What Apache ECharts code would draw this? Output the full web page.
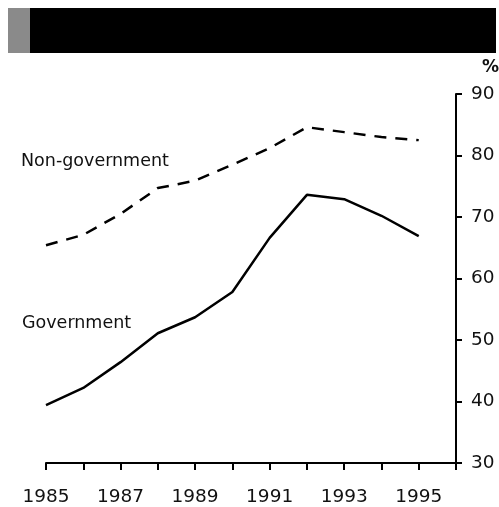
<!DOCTYPE html>
<html><head><meta charset="utf-8">
<script src="https://cdn.jsdelivr.net/npm/echarts@6/dist/echarts.min.js"></script>
<style>html,body{margin:0;padding:0;background:#fff}#c{width:499px;height:507px}</style>
</head><body><div id="c"></div>
<script>
var years = [1985,1986,1987,1988,1989,1990,1991,1992,1993,1994,1995];
var government = [39.4,42.2,46.4,51.1,53.7,57.8,66.6,73.6,72.9,70.2,66.9];
var nonGovernment = [65.4,67.1,70.5,74.7,75.9,78.5,81.2,84.6,83.8,83.0,82.5];
var xTickLabels = [1985,1987,1989,1991,1993,1995];
var yTicks = [30,40,50,60,70,80,90];

function pairs(xs, ys){ return xs.map(function(x,i){return [x, ys[i]];}); }
var font = 'DejaVu Sans';
var chart = echarts.init(document.getElementById('c'), null, {renderer:'canvas'});
chart.setOption({
  animation:false,
  backgroundColor:'#fff',
  grid:{left:46,right:43,top:94,bottom:44,containLabel:false,outerBoundsMode:'none'},
  xAxis:{type:'value',min:1985,max:1996,interval:1,
    axisLine:{lineStyle:{color:'#000',width:2}},
    axisTick:{show:true,length:7,lineStyle:{color:'#000',width:2}},
    splitLine:{show:false},
    axisLabel:{margin:25,color:'#111',fontFamily:font,fontSize:18.5,
      formatter:function(v){return xTickLabels.indexOf(v)>=0? String(v):'';}}
  },
  yAxis:{type:'value',position:'right',min:30,max:90,interval:10,
    axisLine:{show:true,lineStyle:{color:'#000',width:2}},
    axisTick:{show:true,length:6,lineStyle:{color:'#000',width:2}},
    splitLine:{show:false},
    axisLabel:{margin:15,color:'#111',fontFamily:font,fontSize:18.5,
      formatter:function(v){return yTicks.indexOf(v)>=0? String(v):'';}}
  },
  series:[
    {type:'line',name:'Non-government',data:pairs(years,nonGovernment),symbol:'none',
     lineStyle:{color:'#000',width:2.5,type:[12,9]}},
    {type:'line',name:'Government',data:pairs(years,government),symbol:'none',
     lineStyle:{color:'#000',width:2.5}}
  ],
  graphic:[
    {type:'rect',shape:{x:8,y:8,width:488,height:45},style:{fill:'#000'}},
    {type:'rect',shape:{x:8,y:8,width:22,height:45},style:{fill:'#8a8a8a'}},
    {type:'text',left:482,top:59,style:{text:'%',fill:'#111',font:'bold 17px "DejaVu Sans"'}},
    {type:'text',left:21,top:152,style:{text:'Non-government',fill:'#111',font:'17.5px "DejaVu Sans"'}},
    {type:'text',left:22,top:314,style:{text:'Government',fill:'#111',font:'17.5px "DejaVu Sans"'}}
  ]
});
</script></body></html>
